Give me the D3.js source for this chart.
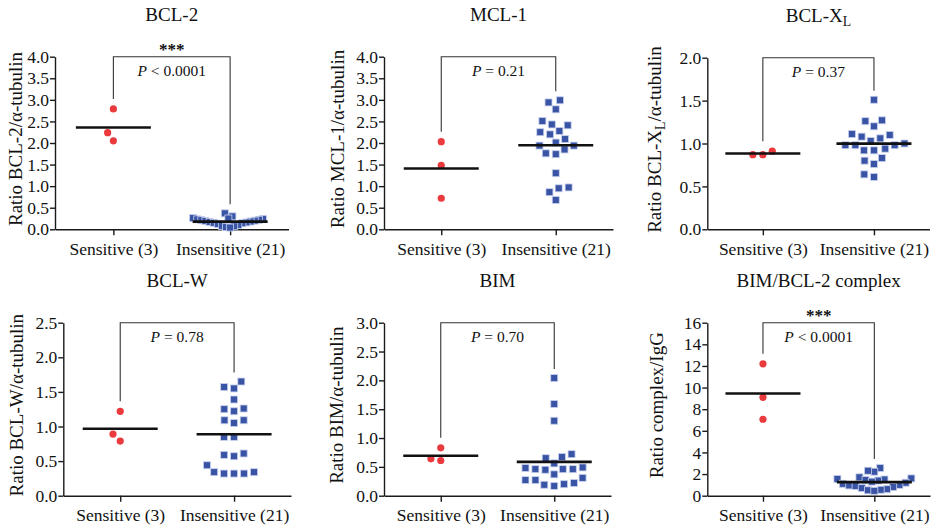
<!DOCTYPE html>
<html>
<head>
<meta charset="utf-8">
<script src="https://cdn.jsdelivr.net/npm/d3@7"></script>
<style>
  html, body { margin: 0; padding: 0; background: #fff; }
  svg { display: block; font-family: "Liberation Serif", "Times New Roman", serif; }
</style>
</head>
<body>
<svg id="chart" width="935" height="530"></svg>
<script>
// ---- data ----
const groups = ["Sensitive (3)", "Insensitive (21)"];

const titles = ["BCL-2", "MCL-1", "BCL-X_L", "BCL-W", "BIM", "BIM/BCL-2 complex"];
const yLabels = [
  "Ratio BCL-2/α-tubulin",
  "Ratio MCL-1/α-tubulin",
  "Ratio BCL-X_L/α-tubulin",
  "Ratio BCL-W/α-tubulin",
  "Ratio BIM/α-tubulin",
  "Ratio complex/IgG"
];
const yMax = [4, 4, 2, 2.5, 3, 16];
const yStep = [0.5, 0.5, 0.5, 0.5, 0.5, 2];
const yDecimals = [1, 1, 1, 1, 1, 0];
const pTexts = ["< 0.0001", "= 0.21", "= 0.37", "= 0.78", "= 0.70", "< 0.0001"];
const stars = ["***", "", "", "", "", "***"];

const sensitive = [
  [2.79, 2.24, 2.05],
  [2.03, 1.48, 0.72],
  [0.91, 0.87, 0.87],
  [1.22, 0.89, 0.79],
  [0.83, 0.61, 0.64],
  [12.2, 9.1, 7.07]
];
const insensitive = [
  [0.37, 0.30, 0.26, 0.25, 0.24, 0.23, 0.22, 0.21, 0.20, 0.19, 0.18, 0.17, 0.16, 0.15, 0.14, 0.12, 0.10, 0.08, 0.07, 0.05, 0.04],
  [2.99, 2.94, 2.78, 2.51, 2.41, 2.43, 2.28, 2.25, 2.20, 2.09, 2.01, 1.94, 1.94, 1.76, 1.74, 1.85, 1.30, 0.97, 0.95, 0.86, 0.68],
  [1.51, 1.27, 1.26, 1.20, 1.11, 1.10, 1.08, 1.06, 1.00, 0.98, 0.98, 1.03, 0.94, 0.92, 0.92, 0.98, 0.80, 0.83, 0.76, 0.61, 0.64],
  [1.65, 1.55, 1.57, 1.39, 1.26, 1.22, 1.25, 1.09, 1.05, 1.09, 0.85, 0.85, 0.59, 0.57, 0.61, 0.44, 0.34, 0.32, 0.32, 0.32, 0.34],
  [2.04, 1.59, 1.30, 0.67, 0.65, 0.72, 0.56, 0.48, 0.46, 0.45, 0.46, 0.46, 0.49, 0.37, 0.31, 0.27, 0.20, 0.17, 0.19, 0.22, 0.27],
  [2.56, 2.22, 2.31, 1.70, 1.60, 1.55, 1.50, 1.45, 1.40, 1.30, 1.20, 1.10, 1.00, 0.95, 0.90, 0.80, 0.70, 0.60, 0.55, 0.50, 0.45]
];

// ---- layout of the six panels ----
const panels = [
  { x0: 55,    x1: 288.5, top: 56.7,  bottom: 229.3, labelDx: -33 },
  { x0: 384,   x1: 613,   top: 56.7,  bottom: 229.3, labelDx: -40 },
  { x0: 707.3, x1: 929.5, top: 57.7,  bottom: 229.3, labelDx: -46 },
  { x0: 63.3,  x1: 291,   top: 322.7, bottom: 495.7, labelDx: -40 },
  { x0: 384,   x1: 611,   top: 322.7, bottom: 495.7, labelDx: -41 },
  { x0: 707.3, x1: 930,   top: 322.7, bottom: 495.7, labelDx: -44 }
];

const RED = "#ea3a3d";
const BLUE = "#3a54a5";
const HALO = "#c9d2ee";
const AXIS = "#1a1a1a";

const svg = d3.select("#chart");

// Append text, turning "_X" into a subscript X
function richText(sel, str) {
  const parts = str.split(/_(.)/).filter(p => p !== "");
  const raw = str.split(/_(.)/);
  let sub = false;
  raw.forEach((p, i) => {
    if (!p) return;
    if (i % 2 === 1) {
      sel.append("tspan").attr("font-size", "0.72em").attr("dy", "0.28em").text(p);
      sub = true;
    } else {
      const ts = sel.append("tspan").text(p);
      if (sub) { ts.attr("dy", "-0.2em"); sub = false; }
    }
  });
  return parts;
}

// Column-scatter layout: points sorted ascending, each put at the
// horizontal offset nearest the centre that keeps distance >= d.
function swarm(values, yScale, d, limit) {
  const order = d3.range(values.length).sort((a, b) => values[a] - values[b]);
  const placed = [];
  const xs = new Array(values.length);
  for (const i of order) {
    const yi = yScale(values[i]);
    const near = placed.filter(p => Math.abs(p.y - yi) < d);
    const cands = [0];
    for (const p of near) {
      const dx = Math.sqrt(d * d - (p.y - yi) ** 2);
      cands.push(p.x - dx, p.x + dx);
    }
    cands.sort((a, b) => Math.abs(a) - Math.abs(b) || a - b);
    const ok = c => near.every(p => (p.x - c) ** 2 + (p.y - yi) ** 2 >= d * d - 1e-6);
    const x = cands.find(ok);
    xs[i] = x;
    placed.push({ x, y: yi });
  }
  const m = d3.max(xs, v => Math.abs(v));
  const k = m > limit ? limit / m : 1;
  return xs.map(v => v * k);
}

panels.forEach((L, i) => {
  const g = svg.append("g");
  const x = d3.scalePoint().domain(groups).range([L.x0, L.x1]).padding(0.5);
  const y = d3.scaleLinear().domain([0, yMax[i]]).range([L.bottom, L.top]);
  const ticks = d3.range(0, yMax[i] + 1e-9, yStep[i]);
  const cx = (x(groups[0]) + x(groups[1])) / 2;

  // title
  const t = g.append("text")
    .attr("x", cx).attr("y", L.top - 36)
    .attr("text-anchor", "middle")
    .attr("font-size", 19).attr("fill", "#111");
  richText(t, titles[i]);

  // y axis
  const yAxis = g.append("g")
    .attr("transform", `translate(${L.x0},0)`)
    .call(d3.axisLeft(y).tickValues(ticks).tickFormat(d3.format("." + yDecimals[i] + "f"))
      .tickSize(5).tickSizeOuter(0).tickPadding(1));
  yAxis.selectAll("path, line").attr("stroke", AXIS).attr("stroke-width", 1.4);
  yAxis.selectAll("text").attr("font-size", 17.5).attr("fill", "#111")
    .attr("font-family", "'Liberation Serif', 'Times New Roman', serif");

  // x axis
  const xAxis = g.append("g")
    .attr("transform", `translate(0,${L.bottom})`)
    .call(d3.axisBottom(x).tickSize(6).tickSizeOuter(0).tickPadding(7));
  xAxis.selectAll("path, line").attr("stroke", AXIS).attr("stroke-width", 1.4);
  xAxis.selectAll("text").attr("font-size", 17.5).attr("fill", "#111")
    .attr("font-family", "'Liberation Serif', 'Times New Roman', serif");

  // y axis label
  const yl = g.append("text")
    .attr("transform", `translate(${L.x0 + L.labelDx},${(L.top + L.bottom) / 2 - 4}) rotate(-90)`)
    .attr("text-anchor", "middle")
    .attr("font-size", 19).attr("fill", "#111");
  richText(yl, yLabels[i]);

  // significance bracket
  const leg0 = y(d3.max(sensitive[i])) - 10;
  const leg1 = y(d3.max(insensitive[i])) - 9;
  g.append("path")
    .attr("d", `M${x(groups[0])},${leg0}V${L.top}H${x(groups[1])}V${leg1}`)
    .attr("fill", "none").attr("stroke", "#333").attr("stroke-width", 1.1);

  const pt = g.append("text")
    .attr("x", cx).attr("y", L.top + 19)
    .attr("text-anchor", "middle")
    .attr("font-size", 15.5).attr("fill", "#111");
  pt.append("tspan").attr("font-style", "italic").text("P");
  pt.append("tspan").text(" " + pTexts[i]);

  if (stars[i]) {
    g.append("text")
      .attr("x", cx).attr("y", L.top - 2)
      .attr("text-anchor", "middle")
      .attr("font-size", 17).attr("font-weight", "bold").attr("fill", "#111")
      .text(stars[i]);
  }

  // sensitive: red circles
  const sx = swarm(sensitive[i], y, 10, 37);
  g.selectAll("circle.s").data(sensitive[i]).join("circle")
    .attr("class", "s")
    .attr("cx", (d, j) => x(groups[0]) + sx[j])
    .attr("cy", d => y(d))
    .attr("r", 3.6)
    .attr("fill", RED);

  // insensitive: blue squares
  const ix = swarm(insensitive[i], y, 10, 37);
  const s = 7;
  g.selectAll("rect.i").data(insensitive[i]).join("rect")
    .attr("class", "i")
    .attr("x", (d, j) => x(groups[1]) + ix[j] - s / 2)
    .attr("y", d => y(d) - s / 2)
    .attr("width", s).attr("height", s)
    .attr("fill", BLUE)
    .attr("stroke", HALO).attr("stroke-width", 0.8);

  // mean lines
  const half = 37.5;
  [sensitive[i], insensitive[i]].forEach((vals, k) => {
    const m = d3.mean(vals);
    g.append("line")
      .attr("x1", x(groups[k]) - half).attr("x2", x(groups[k]) + half)
      .attr("y1", y(m)).attr("y2", y(m))
      .attr("stroke", "#111").attr("stroke-width", 2.6);
  });
});
</script>
</body>
</html>
